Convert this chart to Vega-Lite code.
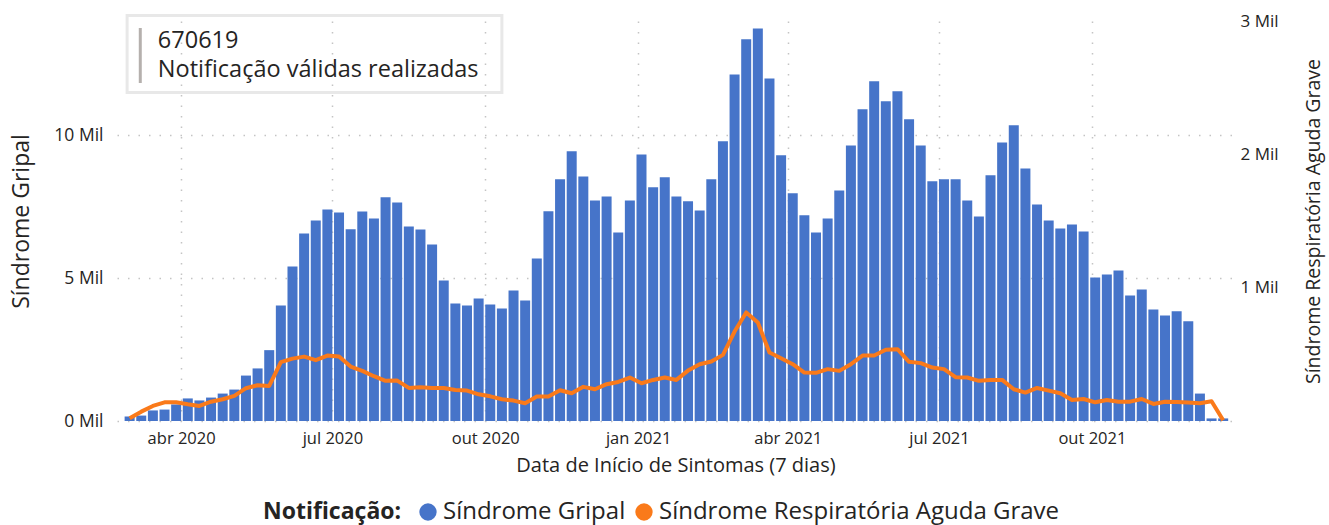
{
  "$schema": "https://vega.github.io/schema/vega-lite/v6.json",
  "width": 1117,
  "height": 400,
  "autosize": "none",
  "padding": {"left": 117, "top": 21, "right": 95, "bottom": 104},
  "background": "white",
  "config": {
    "font": "Open Sans",
    "view": {"stroke": null},
    "axis": {
      "domain": false,
      "ticks": false,
      "labelColor": "#252423",
      "titleColor": "#252423",
      "titleFontWeight": "normal",
      "gridColor": "#c4c4c4",
      "gridDash": [1.5, 9],
      "gridWidth": 1.5
    }
  },
  "data": {
    "values": [
      {"semana": "2020-03-01", "sg": 160, "srag": 20},
      {"semana": "2020-03-08", "sg": 190, "srag": 70},
      {"semana": "2020-03-15", "sg": 370, "srag": 113},
      {"semana": "2020-03-22", "sg": 400, "srag": 140},
      {"semana": "2020-03-29", "sg": 580, "srag": 140},
      {"semana": "2020-04-05", "sg": 790, "srag": 125},
      {"semana": "2020-04-12", "sg": 720, "srag": 113},
      {"semana": "2020-04-19", "sg": 820, "srag": 145},
      {"semana": "2020-04-26", "sg": 960, "srag": 163},
      {"semana": "2020-05-03", "sg": 1100, "srag": 188},
      {"semana": "2020-05-10", "sg": 1590, "srag": 246},
      {"semana": "2020-05-17", "sg": 1840, "srag": 268},
      {"semana": "2020-05-24", "sg": 2480, "srag": 263},
      {"semana": "2020-05-31", "sg": 4040, "srag": 441},
      {"semana": "2020-06-07", "sg": 5410, "srag": 468},
      {"semana": "2020-06-14", "sg": 6560, "srag": 483},
      {"semana": "2020-06-21", "sg": 7020, "srag": 456},
      {"semana": "2020-06-28", "sg": 7400, "srag": 491},
      {"semana": "2020-07-05", "sg": 7300, "srag": 483},
      {"semana": "2020-07-12", "sg": 6710, "srag": 408},
      {"semana": "2020-07-19", "sg": 7330, "srag": 376},
      {"semana": "2020-07-26", "sg": 7090, "srag": 336},
      {"semana": "2020-08-02", "sg": 7830, "srag": 301},
      {"semana": "2020-08-09", "sg": 7650, "srag": 303},
      {"semana": "2020-08-16", "sg": 6810, "srag": 248},
      {"semana": "2020-08-23", "sg": 6700, "srag": 253},
      {"semana": "2020-08-30", "sg": 6180, "srag": 248},
      {"semana": "2020-09-06", "sg": 4920, "srag": 248},
      {"semana": "2020-09-13", "sg": 4110, "srag": 233},
      {"semana": "2020-09-20", "sg": 4040, "srag": 228},
      {"semana": "2020-09-27", "sg": 4290, "srag": 200},
      {"semana": "2020-10-04", "sg": 4080, "srag": 185},
      {"semana": "2020-10-11", "sg": 3940, "srag": 163},
      {"semana": "2020-10-18", "sg": 4570, "srag": 153},
      {"semana": "2020-10-25", "sg": 4220, "srag": 133},
      {"semana": "2020-11-01", "sg": 5690, "srag": 183},
      {"semana": "2020-11-08", "sg": 7340, "srag": 183},
      {"semana": "2020-11-15", "sg": 8460, "srag": 231},
      {"semana": "2020-11-22", "sg": 9440, "srag": 208},
      {"semana": "2020-11-29", "sg": 8560, "srag": 256},
      {"semana": "2020-12-06", "sg": 7720, "srag": 238},
      {"semana": "2020-12-13", "sg": 7860, "srag": 276},
      {"semana": "2020-12-20", "sg": 6600, "srag": 293},
      {"semana": "2020-12-27", "sg": 7720, "srag": 326},
      {"semana": "2021-01-03", "sg": 9330, "srag": 283},
      {"semana": "2021-01-10", "sg": 8180, "srag": 308},
      {"semana": "2021-01-17", "sg": 8530, "srag": 326},
      {"semana": "2021-01-24", "sg": 7860, "srag": 308},
      {"semana": "2021-01-31", "sg": 7690, "srag": 378},
      {"semana": "2021-02-07", "sg": 7370, "srag": 426},
      {"semana": "2021-02-14", "sg": 8460, "srag": 446},
      {"semana": "2021-02-21", "sg": 9790, "srag": 496},
      {"semana": "2021-02-28", "sg": 12130, "srag": 671},
      {"semana": "2021-03-07", "sg": 13360, "srag": 814},
      {"semana": "2021-03-14", "sg": 13740, "srag": 739},
      {"semana": "2021-03-21", "sg": 11990, "srag": 514},
      {"semana": "2021-03-28", "sg": 9300, "srag": 471},
      {"semana": "2021-04-04", "sg": 7970, "srag": 426},
      {"semana": "2021-04-11", "sg": 7200, "srag": 363},
      {"semana": "2021-04-18", "sg": 6600, "srag": 361},
      {"semana": "2021-04-25", "sg": 7090, "srag": 389},
      {"semana": "2021-05-02", "sg": 8070, "srag": 376},
      {"semana": "2021-05-09", "sg": 9640, "srag": 426},
      {"semana": "2021-05-16", "sg": 10910, "srag": 491},
      {"semana": "2021-05-23", "sg": 11890, "srag": 491},
      {"semana": "2021-05-30", "sg": 11190, "srag": 534},
      {"semana": "2021-06-06", "sg": 11540, "srag": 539},
      {"semana": "2021-06-13", "sg": 10560, "srag": 444},
      {"semana": "2021-06-20", "sg": 9640, "srag": 434},
      {"semana": "2021-06-27", "sg": 8390, "srag": 401},
      {"semana": "2021-07-04", "sg": 8460, "srag": 389},
      {"semana": "2021-07-11", "sg": 8460, "srag": 329},
      {"semana": "2021-07-18", "sg": 7720, "srag": 326},
      {"semana": "2021-07-25", "sg": 7160, "srag": 301},
      {"semana": "2021-08-01", "sg": 8600, "srag": 308},
      {"semana": "2021-08-08", "sg": 9750, "srag": 308},
      {"semana": "2021-08-15", "sg": 10350, "srag": 238},
      {"semana": "2021-08-22", "sg": 8840, "srag": 213},
      {"semana": "2021-08-29", "sg": 7580, "srag": 248},
      {"semana": "2021-09-05", "sg": 7020, "srag": 228},
      {"semana": "2021-09-12", "sg": 6740, "srag": 208},
      {"semana": "2021-09-19", "sg": 6880, "srag": 158},
      {"semana": "2021-09-26", "sg": 6630, "srag": 165},
      {"semana": "2021-10-03", "sg": 5020, "srag": 140},
      {"semana": "2021-10-10", "sg": 5130, "srag": 158},
      {"semana": "2021-10-17", "sg": 5270, "srag": 145},
      {"semana": "2021-10-24", "sg": 4390, "srag": 145},
      {"semana": "2021-10-31", "sg": 4600, "srag": 165},
      {"semana": "2021-11-07", "sg": 3900, "srag": 128},
      {"semana": "2021-11-14", "sg": 3690, "srag": 145},
      {"semana": "2021-11-21", "sg": 3840, "srag": 143},
      {"semana": "2021-11-28", "sg": 3490, "srag": 138},
      {"semana": "2021-12-05", "sg": 960, "srag": 133},
      {"semana": "2021-12-12", "sg": 90, "srag": 148},
      {"semana": "2021-12-19", "sg": 90, "srag": 5}
    ]
  },
  "layer": [
    {
      "layer": [
        {
          "mark": {"type": "bar", "size": 10},
          "encoding": {
            "x": {
              "field": "semana",
              "type": "temporal",
              "scale": {
                "type": "utc",
                "domain": [
                  {"year": 2020, "month": 2, "date": 25, "hours": 10, "utc": true},
                  {"year": 2021, "month": 12, "date": 22, "hours": 12, "utc": true}
                ]
              },
              "axis": {
                "title": "Data de Início de Sintomas (7 dias)",
                "titleFontSize": 20,
                "titlePadding": 9,
                "labelFontSize": 16.5,
                "labelPadding": 9,
                "grid": true,
                "values": [
                  {"year": 2020, "month": 4, "date": 1, "utc": true},
                  {"year": 2020, "month": 7, "date": 1, "utc": true},
                  {"year": 2020, "month": 10, "date": 1, "utc": true},
                  {"year": 2021, "month": 1, "date": 1, "utc": true},
                  {"year": 2021, "month": 4, "date": 1, "utc": true},
                  {"year": 2021, "month": 7, "date": 1, "utc": true},
                  {"year": 2021, "month": 10, "date": 1, "utc": true}
                ],
                "labelExpr": "['jan','fev','mar','abr','mai','jun','jul','ago','set','out','nov','dez'][utcmonth(datum.value)] + ' ' + utcyear(datum.value)"
              }
            },
            "y": {
              "field": "sg",
              "type": "quantitative",
              "scale": {"domain": [0, 14000], "nice": false},
              "axis": {
                "orient": "left",
                "title": "Síndrome Gripal",
                "titleFontSize": 23,
                "titlePadding": 20,
                "labelFontSize": 17.5,
                "labelPadding": 14,
                "grid": true,
                "values": [0, 5000, 10000],
                "labelExpr": "(datum.value / 1000) + ' Mil'"
              }
            },
            "color": {
              "datum": "Síndrome Gripal",
              "type": "nominal",
              "scale": {
                "domain": ["Síndrome Gripal", "Síndrome Respiratória Aguda Grave"],
                "range": ["#4674c9", "#fa7a1a"]
              },
              "legend": {
                "title": "Notificação:",
                "orient": "none",
                "legendX": 146,
                "legendY": 479,
                "direction": "horizontal",
                "titleOrient": "left",
                "titleFontSize": 23,
                "titleFontWeight": "bold",
                "titleColor": "#252423",
                "titlePadding": 14,
                "labelFontSize": 24,
                "labelColor": "#252423",
                "labelLimit": 800,
                "labelOffset": 3,
                "columnPadding": 6,
                "symbolType": "circle",
                "symbolSize": 300,
                "symbolStrokeWidth": 0,
                "encode": {
                  "symbols": {
                    "update": {
                      "fill": {"scale": "color", "field": "value"},
                      "shape": {"value": "circle"},
                      "strokeWidth": {"value": 0}
                    }
                  }
                }
              }
            }
          }
        },
        {
          "data": {"values": [{}]},
          "mark": {"type": "rect", "fill": null, "fillOpacity": 0, "stroke": "#e8e8e8", "strokeWidth": 3},
          "encoding": {
            "x": {"datum": {"year": 2020, "month": 2, "date": 28, "hours": 12, "utc": true}, "type": "temporal"},
            "x2": {"datum": {"year": 2020, "month": 10, "date": 11, "utc": true}},
            "y": {"datum": 14190, "type": "quantitative", "scale": {"domain": [0, 14000], "nice": false}},
            "y2": {"datum": 11500}
          }
        },
        {
          "data": {"values": [{}]},
          "mark": {"type": "rule", "color": "#b5b0ad", "strokeWidth": 3},
          "encoding": {
            "x": {"datum": {"year": 2020, "month": 3, "date": 7, "hours": 10, "utc": true}, "type": "temporal"},
            "y": {"datum": 13755, "type": "quantitative", "scale": {"domain": [0, 14000], "nice": false}},
            "y2": {"datum": 11830}
          }
        },
        {
          "data": {"values": [{}]},
          "mark": {
            "type": "text",
            "align": "left",
            "baseline": "alphabetic",
            "font": "Open Sans",
            "fontSize": 23.5,
            "lineHeight": 28.5,
            "fill": "#252423",
            "stroke": null,
            "text": ["670619", "Notificação válidas realizadas"]
          },
          "encoding": {
            "x": {"datum": {"year": 2020, "month": 3, "date": 18, "utc": true}, "type": "temporal"},
            "y": {"datum": 13045, "type": "quantitative", "scale": {"domain": [0, 14000], "nice": false}}
          }
        }
      ]
    },
    {
      "mark": {"type": "line", "strokeWidth": 4, "strokeJoin": "round"},
      "encoding": {
        "x": {"field": "semana", "type": "temporal"},
        "y": {
          "field": "srag",
          "type": "quantitative",
          "scale": {"domain": [0, 3000], "nice": false},
          "axis": {
            "orient": "right",
            "title": "Síndrome Respiratória Aguda Grave",
            "titleFontSize": 19.5,
            "titleAngle": 270,
            "titlePadding": 45,
            "labelFontSize": 17,
            "labelPadding": 6,
            "grid": false,
            "values": [1000, 2000, 3000],
            "labelExpr": "(datum.value / 1000) + ' Mil'"
          }
        },
        "color": {"datum": "Síndrome Respiratória Aguda Grave", "type": "nominal"}
      }
    }
  ],
  "resolve": {"scale": {"y": "independent"}}
}
